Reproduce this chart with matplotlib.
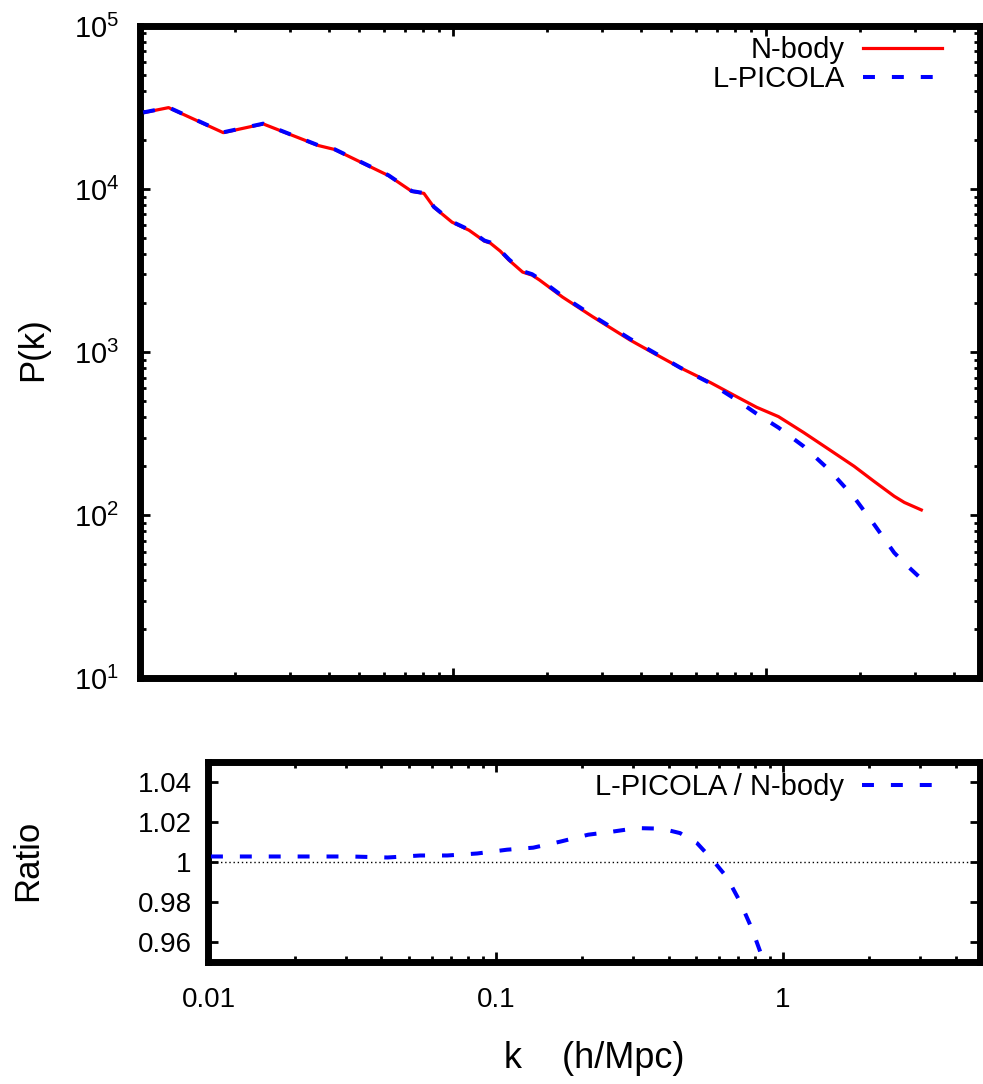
import numpy as np
import matplotlib
matplotlib.use("Agg")
import matplotlib.pyplot as plt
from matplotlib.ticker import FixedLocator, LogLocator, FuncFormatter, NullFormatter

plt.rcParams["font.family"] = ["Liberation Sans", "DejaVu Sans"]
plt.rcParams["lines.scale_dashes"] = False

# power spectrum
k = [0.0102, 0.0123, 0.0184, 0.0247, 0.0371, 0.0418, 0.0622, 0.0738, 0.0807,
     0.0869, 0.0993, 0.1125, 0.126, 0.1316, 0.1416, 0.151, 0.167, 0.179, 0.189,
     0.224, 0.280, 0.368, 0.436, 0.533, 0.666, 0.807, 0.936, 1.10, 1.324,
     1.594, 1.92, 2.22, 2.58, 2.78, 3.15]
p_nbody = [29400, 31600, 22200, 25100, 18500, 17500, 12100, 9690, 9420,
           7740, 6270, 5600, 4800, 4670, 4170, 3670, 3100, 2970, 2775,
           2180, 1650, 1190, 993, 804, 652, 535, 460, 403, 322,
           254, 200, 162, 131, 120, 108]
p_picola = [29500, 31700, 22300, 25200, 18550, 17550, 12150, 9730, 9460,
            7780, 6310, 5640, 4840, 4710, 4210, 3710, 3140, 3010, 2815,
            2210, 1675, 1210, 1005, 805, 645, 511, 420, 345, 265,
            191, 129, 88.5, 59, 51, 40.8]

# ratio panel
k_ratio = [0.0102, 0.014, 0.0209, 0.0312, 0.042, 0.0546, 0.0678, 0.0862,
           0.1096, 0.135, 0.1675, 0.21, 0.254, 0.31, 0.379, 0.438, 0.502,
           0.571, 0.638, 0.708, 0.78, 0.845, 0.936, 1.10]
ratio = [1.003, 1.003, 1.003, 1.003, 1.0025, 1.0035, 1.0035, 1.0045,
         1.0064, 1.0074, 1.0104, 1.0139, 1.0154, 1.0172, 1.0169, 1.0147,
         1.0097, 1.001, 0.9926, 0.9805, 0.9668, 0.953, 0.92, 0.86]

XMIN, XMAX = 0.01, 4.87
RED = "#ff0000"
BLUE = "#0000ff"
DASH = (0, (8.6, 12.2))

fig = plt.figure(figsize=(9.83, 10.84), dpi=100)
ax1 = fig.add_axes([0.1429, 0.3741, 0.8545, 0.6019])
ax2 = fig.add_axes([0.2121, 0.1121, 0.7853, 0.1845])


def style(ax):
  for s in ax.spines.values():
    s.set_linewidth(5)
  ax.tick_params(which="both", direction="in", top=True, right=True,
                 width=2, labelsize=20)
  ax.tick_params(which="major", length=7)
  ax.tick_params(which="minor", length=4)


# upper panel
ax1.plot(k, p_nbody, color=RED, lw=2.3, label="N-body", zorder=2)
ax1.plot(k, p_picola, color=BLUE, lw=2.9, ls=DASH, dash_capstyle="butt",
         label="L-PICOLA", zorder=3)
ax1.set_xscale("log")
ax1.set_yscale("log")
ax1.set_xlim(XMIN, XMAX)
ax1.set_ylim(10, 1e5)
style(ax1)
ax1.yaxis.set_major_locator(FixedLocator([10, 100, 1e3, 1e4, 1e5]))
ax1.yaxis.set_minor_locator(LogLocator(base=10, subs=np.arange(2, 10)))
ax1.yaxis.set_minor_formatter(NullFormatter())
ax1.yaxis.set_major_formatter(
  FuncFormatter(lambda v, _: r"$\mathregular{10^{%d}}$" % round(np.log10(v))))
ax1.xaxis.set_major_locator(FixedLocator([0.01, 0.1, 1]))
ax1.xaxis.set_minor_locator(LogLocator(base=10, subs=np.arange(2, 10)))
ax1.xaxis.set_major_formatter(NullFormatter())
ax1.xaxis.set_minor_formatter(NullFormatter())
ax1.tick_params(axis="y", labelsize=21, pad=15.5)
ax1.legend(loc="upper right", bbox_to_anchor=(0.968, 1.003), borderaxespad=0,
           frameon=False, fontsize=21, markerfirst=False,
           handlelength=2.7, handletextpad=0.62, labelspacing=0.05)

# ratio panel
ax2.axhline(1.0, color="black", lw=1, ls=(0, (1, 2)), zorder=1)
ax2.plot(k_ratio, ratio, color=BLUE, lw=2.9, ls=DASH, dash_capstyle="butt",
         label="L-PICOLA / N-body", zorder=3)
ax2.set_xscale("log")
ax2.set_xlim(XMIN, XMAX)
ax2.set_ylim(0.95, 1.05)
style(ax2)
ax2.set_yticks([0.96, 0.98, 1.0, 1.02, 1.04])
ax2.set_yticklabels(["0.96", "0.98", "1", "1.02", "1.04"])
ax2.xaxis.set_major_locator(FixedLocator([0.01, 0.1, 1]))
ax2.xaxis.set_minor_locator(LogLocator(base=10, subs=np.arange(2, 10)))
ax2.xaxis.set_minor_formatter(NullFormatter())
ax2.set_xticklabels(["0.01", "0.1", "1"])
ax2.tick_params(axis="y", pad=12)
ax2.tick_params(axis="x", pad=18)
ax2.legend(loc="upper right", bbox_to_anchor=(0.953, 1.005), borderaxespad=0,
           frameon=False, fontsize=21, markerfirst=False,
           handlelength=2.4, handletextpad=0.62)

fig.text(33 / 983, 1 - 349 / 1084, "P(k)", rotation=90, ha="center",
         va="center", fontsize=25)
fig.text(28 / 983, 1 - 860 / 1084, "Ratio", rotation=90, ha="center",
         va="center", fontsize=25)
fig.text(594.5 / 983, 1 - 1058 / 1084, "k    (h/Mpc)", ha="center",
         va="center", fontsize=26)

fig.savefig("out.png", dpi=100)
